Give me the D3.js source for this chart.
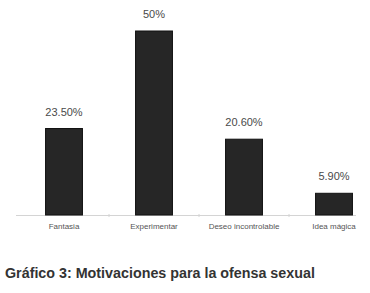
<!DOCTYPE html>
<html>
<head>
<meta charset="utf-8">
<script src="https://cdn.jsdelivr.net/npm/d3@7"></script>
<style>
  body { margin: 0; background: #fff; }
  svg { display: block; }
</style>
</head>
<body>
<div id="chart"></div>
<script>
// motivaciones para la ofensa sexual (%)
const categories = ["Fantasia", "Experimentar", "Deseo incontrolable", "Idea mágica"];
const values = [23.5, 50, 20.6, 5.9];
const valueLabels = ["23.50%", "50%", "20.60%", "5.90%"];
const title = "Gráfico 3: Motivaciones para la ofensa sexual";

const width = 370, height = 293;
const baseY = 215;

const svg = d3.select("#chart").append("svg")
    .attr("width", width).attr("height", height);

const xScale = d3.scaleBand().domain(categories)
    .range([19, 379]).paddingInner(0.59).paddingOuter(0.295);
const yScale = d3.scaleLinear().domain([0, 50]).range([baseY, 31]);

// baseline, faint like the scan
svg.append("line")
    .attr("x1", 16).attr("x2", 356)
    .attr("y1", baseY + 0.5).attr("y2", baseY + 0.5)
    .attr("stroke", "#d4d4d4").attr("stroke-width", 1);

// little tick marks between categories
categories.slice(1).forEach(function(c){
    let tx = xScale(c) - xScale.step() * xScale.paddingInner() / 2;
    svg.append("line")
        .attr("x1", tx).attr("x2", tx)
        .attr("y1", baseY - 1).attr("y2", baseY + 2)
        .attr("stroke", "#d4d4d4");
});

svg.selectAll("rect.bar").data(values).enter().append("rect")
    .attr("class", "bar")
    .attr("x", (d, i) => xScale(categories[i]))
    .attr("y", d => yScale(d))
    .attr("width", xScale.bandwidth())
    .attr("height", d => baseY - yScale(d))
    .attr("fill", "#262626")
    .attr("stroke", "#111")
    .attr("stroke-width", 1);

svg.selectAll("text.val").data(values).enter().append("text")
    .attr("class", "val")
    .attr("x", (d, i) => xScale(categories[i]) + xScale.bandwidth() / 2)
    .attr("y", d => yScale(d) - 13)
    .attr("text-anchor", "middle")
    .attr("font-family", "Liberation Sans, Arial, sans-serif")
    .attr("font-size", 11)
    .attr("fill", "#4a4a4a")
    .text((d, i) => valueLabels[i]);

svg.selectAll("text.cat").data(categories).enter().append("text")
    .attr("class", "cat")
    .attr("x", d => xScale(d) + xScale.bandwidth() / 2)
    .attr("y", 229)
    .attr("text-anchor", "middle")
    .attr("font-family", "Liberation Sans, Arial, sans-serif")
    .attr("font-size", 8)
    .attr("fill", "#555")
    .text(d => d);

svg.append("text")
    .attr("x", 5).attr("y", 278)
    .attr("font-family", "Liberation Sans, Arial, sans-serif")
    .attr("font-size", 14.3)
    .attr("font-weight", "bold")
    .attr("fill", "#333")
    .text(title);
</script>
</body>
</html>
